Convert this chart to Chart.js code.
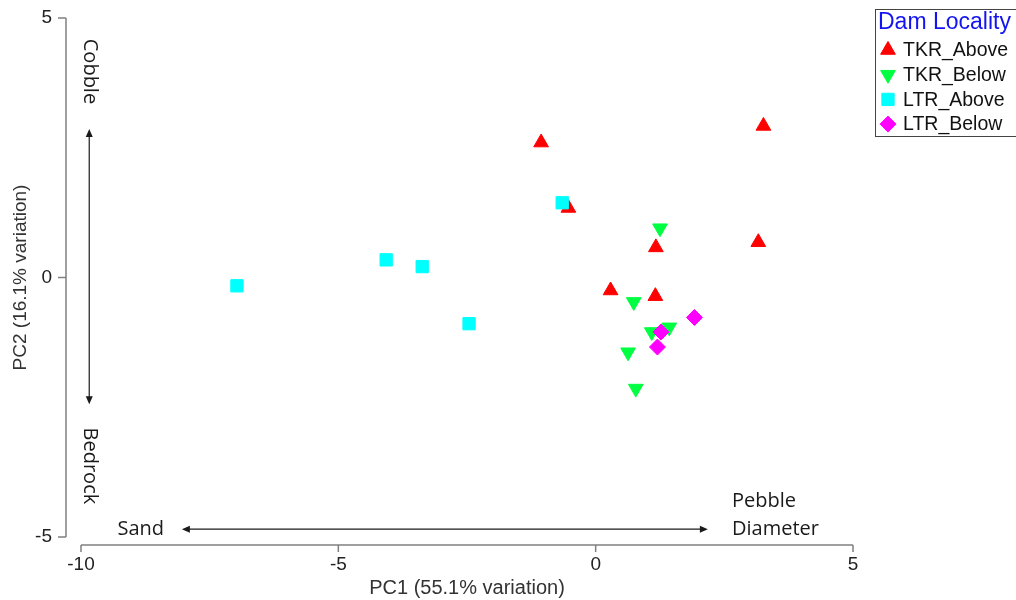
<!DOCTYPE html>
<html>
<head>
<meta charset="utf-8">
<script src="https://cdn.jsdelivr.net/npm/chart.js@4/dist/chart.umd.min.js"></script>
<style>
  html, body { margin: 0; padding: 0; background: #fff; }
  #wrap { width: 1016px; height: 600px; position: relative; }
</style>
</head>
<body>
<div id="wrap"><canvas id="pca"></canvas></div>
<script>
// PCA scores (PC1, PC2)
const tkrAboveX = [-1.06, 3.26, -0.53, 1.17, 3.16, 0.29, 1.16];
const tkrAboveY = [2.60, 2.92, 1.34, 0.58, 0.68, -0.25, -0.36];
const tkrBelowX = [1.25, 0.74, 1.09, 1.43, 0.63, 0.78];
const tkrBelowY = [0.95, -0.47, -1.05, -0.96, -1.44, -2.14];
const ltrAboveX = [-0.65, -6.97, -4.07, -3.37, -2.46];
const ltrAboveY = [1.44, -0.16, 0.34, 0.21, -0.89];
const ltrBelowX = [1.92, 1.27, 1.20];
const ltrBelowY = [-0.77, -1.05, -1.34];

const groupNames = ['TKR_Above', 'TKR_Below', 'LTR_Above', 'LTR_Below'];
const xTicks = [-10, -5, 0, 5];
const yTicks = [-5, 0, 5];

const groupStyle = [
  { color: '#ff0000', shape: 'triangle', rot: 0,   r: 8.5 },
  { color: '#00ff41', shape: 'triangle', rot: 180, r: 8.5 },
  { color: '#00ffff', shape: 'rect',     rot: 0,   r: 8.7 },
  { color: '#ff00ff', shape: 'rectRot',  rot: 0,   r: 8 }
];

function pairs(xs, ys) { return xs.map((x, i) => ({ x: x, y: ys[i] })); }
const groupData = [
  pairs(tkrAboveX, tkrAboveY),
  pairs(tkrBelowX, tkrBelowY),
  pairs(ltrAboveX, ltrAboveY),
  pairs(ltrBelowX, ltrBelowY)
];

const textFont = '20px "Open Sans", "Noto Sans", sans-serif';
const ink = '#1a1a1a';
const axisGray = '#808080';

// gradient arrows + their captions, in data units
const annotations = {
  vArrow: { x: -9.84, y1: 2.86, y2: -2.44 },
  hArrow: { y: -4.85, x1: -8.04, x2: 2.18 },
  cobble: { x: -9.84, y: 3.97 },
  bedrock: { x: -9.84, y: -3.63 },
  sand: { x: -8.84, y: -4.85 },
  pebble: { x: 2.65, y: -4.31 },
  diameter: { x: 2.65, y: -4.86 }
};

function head(ctx, x, y, dx, dy) {
  // filled arrow head pointing along (dx, dy)
  const len = 8, half = 3.5;
  ctx.beginPath();
  ctx.moveTo(x, y);
  ctx.lineTo(x - dx * len - dy * half, y - dy * len + dx * half);
  ctx.lineTo(x - dx * len + dy * half, y - dy * len - dx * half);
  ctx.closePath();
  ctx.fill();
}

const axesPlugin = {
  id: 'detachedAxes',
  afterDraw(chart) {
    const ctx = chart.ctx;
    const xs = chart.scales.x, ys = chart.scales.y;
    const area = chart.chartArea;
    ctx.save();
    ctx.strokeStyle = axisGray;
    ctx.lineWidth = 1.5;
    // y axis, pulled left of the plot
    const ax = 66;
    ctx.beginPath();
    ctx.moveTo(ax, ys.getPixelForValue(5));
    ctx.lineTo(ax, ys.getPixelForValue(-5));
    yTicks.forEach(v => {
      const py = ys.getPixelForValue(v);
      ctx.moveTo(ax - 8, py);
      ctx.lineTo(ax, py);
    });
    // x axis, pushed below the plot
    const ay = area.bottom + 8;
    ctx.moveTo(xs.getPixelForValue(-10), ay);
    ctx.lineTo(xs.getPixelForValue(5), ay);
    xTicks.forEach(v => {
      const px = xs.getPixelForValue(v);
      ctx.moveTo(px, ay);
      ctx.lineTo(px, ay + 7);
    });
    ctx.stroke();
    ctx.restore();
  }
};

const notesPlugin = {
  id: 'gradientNotes',
  afterDatasetsDraw(chart) {
    const ctx = chart.ctx;
    const xs = chart.scales.x, ys = chart.scales.y;
    const a = annotations;
    ctx.save();
    ctx.strokeStyle = ink;
    ctx.fillStyle = ink;
    ctx.lineWidth = 1.2;

    const vx = xs.getPixelForValue(a.vArrow.x);
    const vt = ys.getPixelForValue(a.vArrow.y1), vb = ys.getPixelForValue(a.vArrow.y2);
    ctx.beginPath();
    ctx.moveTo(vx, vt + 4);
    ctx.lineTo(vx, vb - 4);
    ctx.stroke();
    head(ctx, vx, vt, 0, -1);
    head(ctx, vx, vb, 0, 1);

    const hy = ys.getPixelForValue(a.hArrow.y);
    const hl = xs.getPixelForValue(a.hArrow.x1), hr = xs.getPixelForValue(a.hArrow.x2);
    ctx.beginPath();
    ctx.moveTo(hl + 4, hy);
    ctx.lineTo(hr - 4, hy);
    ctx.stroke();
    head(ctx, hl, hy, -1, 0);
    head(ctx, hr, hy, 1, 0);

    ctx.font = textFont;
    ctx.textBaseline = 'middle';
    ctx.textAlign = 'center';
    [['Cobble', a.cobble], ['Bedrock', a.bedrock]].forEach(([t, p]) => {
      ctx.save();
      ctx.translate(xs.getPixelForValue(p.x), ys.getPixelForValue(p.y));
      ctx.rotate(Math.PI / 2);
      ctx.fillText(t, 0, 0);
      ctx.restore();
    });
    ctx.fillText('Sand', xs.getPixelForValue(a.sand.x), ys.getPixelForValue(a.sand.y));
    ctx.textAlign = 'left';
    ctx.fillText('Pebble', xs.getPixelForValue(a.pebble.x), ys.getPixelForValue(a.pebble.y));
    ctx.fillText('Diameter', xs.getPixelForValue(a.diameter.x), ys.getPixelForValue(a.diameter.y));
    ctx.restore();
  }
};

const legendPlugin = {
  id: 'boxLegend',
  afterDraw(chart) {
    const ctx = chart.ctx;
    ctx.save();
    ctx.strokeStyle = '#444';
    ctx.lineWidth = 1;
    ctx.strokeRect(875.5, 9.5, 160, 127);
    ctx.font = '23px "Liberation Sans", Arial, sans-serif';
    ctx.fillStyle = '#1414f0';
    ctx.textBaseline = 'middle';
    ctx.textAlign = 'left';
    ctx.fillText('Dam Locality', 878, 23);
    ctx.font = '19.5px "Liberation Sans", Arial, sans-serif';
    groupNames.forEach((name, i) => {
      const y = 50 + i * 24.7;
      const s = groupStyle[i];
      ctx.fillStyle = s.color;
      ctx.strokeStyle = s.color;
      if (Chart.helpers && Chart.helpers.drawPoint) {
        Chart.helpers.drawPoint(ctx, { pointStyle: s.shape, rotation: s.rot, radius: s.r, borderWidth: 1 }, 888, y);
      }
      ctx.fillStyle = '#111';
      ctx.fillText(name, 903, y + 1);
    });
    ctx.restore();
  }
};

// keep the plot box fixed: no extra room for half tick labels
function noEdgePadding(s) {
  s.paddingTop = 0; s.paddingBottom = 0; s.paddingLeft = 0; s.paddingRight = 0;
}

new Chart(document.getElementById('pca'), {
  type: 'scatter',
  data: {
    datasets: groupNames.map((name, i) => ({
      label: name,
      data: groupData[i],
      order: groupNames.length - i, // LTR marks sit on top
      pointStyle: groupStyle[i].shape,
      rotation: groupStyle[i].rot,
      pointRadius: groupStyle[i].r,
      pointHoverRadius: groupStyle[i].r,
      backgroundColor: groupStyle[i].color,
      borderColor: groupStyle[i].color,
      borderWidth: 1
    }))
  },
  options: {
    responsive: true,
    maintainAspectRatio: false,
    animation: false,
    layout: { padding: { left: 0, top: 18, right: 163, bottom: 0 } },
    plugins: { legend: { display: false }, tooltip: { enabled: false } },
    scales: {
      x: {
        type: 'linear', min: -10, max: 5,
        grid: { display: false, drawTicks: false }, border: { display: false },
        afterFit: s => { s.height = 63; noEdgePadding(s); },
        afterBuildTicks: s => { s.ticks = xTicks.map(v => ({ value: v })); },
        ticks: { padding: 16, color: '#222', font: { family: '"Liberation Sans", Arial', size: 19 } },
        title: { display: true, text: 'PC1 (55.1% variation)', color: '#333', padding: { top: 0, bottom: 0 },
                 font: { family: '"Liberation Sans", Arial', size: 20 } }
      },
      y: {
        type: 'linear', min: -5, max: 5,
        grid: { display: false, drawTicks: false }, border: { display: false },
        afterFit: s => { s.width = 81; noEdgePadding(s); },
        afterBuildTicks: s => { s.ticks = yTicks.map(v => ({ value: v })); },
        ticks: { padding: 29, color: '#222', font: { family: '"Liberation Sans", Arial', size: 19 } },
        title: { display: true, text: 'PC2 (16.1% variation)', color: '#333', padding: { top: 9, bottom: 0 },
                 font: { family: '"Liberation Sans", Arial', size: 19 } }
      }
    }
  },
  plugins: [axesPlugin, notesPlugin, legendPlugin]
});
</script>
</body>
</html>
